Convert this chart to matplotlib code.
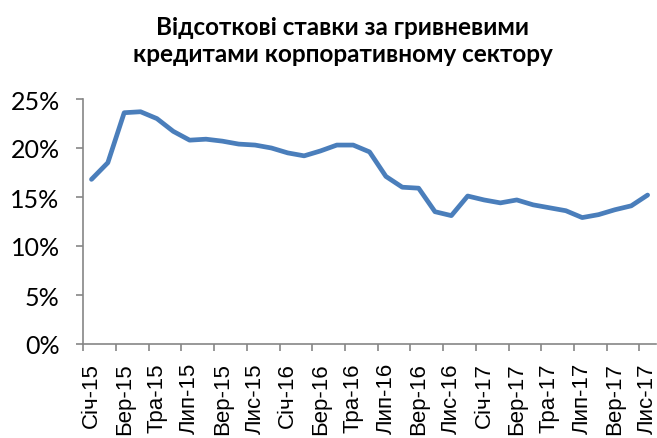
import matplotlib
matplotlib.use("Agg")
import matplotlib.pyplot as plt
from matplotlib.ticker import FixedLocator, PercentFormatter

months = ["Січ", "Лют", "Бер", "Кві", "Тра", "Чер", "Лип", "Сер", "Вер", "Жов", "Лис", "Гру"]
categories = [f"{m}-{y}" for y in ("15", "16", "17") for m in months][:35]

rates = [16.8, 18.5, 23.6, 23.7, 23.0, 21.7, 20.8, 20.9, 20.7, 20.4, 20.3, 20.0,
         19.5, 19.2, 19.7, 20.3, 20.3, 19.6, 17.1, 16.0, 15.9, 13.5, 13.1, 15.1,
         14.7, 14.4, 14.7, 14.2, 13.9, 13.6, 12.9, 13.2, 13.7, 14.1, 15.2]

title = "Відсоткові ставки за гривневими\nкредитами корпоративному сектору"

fig = plt.figure(figsize=(6.57, 4.39), dpi=100)
ax = fig.add_axes([83.3 / 657, 1 - 345 / 439, (655.8 - 83.3) / 657, 245 / 439])

x = list(range(len(rates)))
ax.plot(x, rates, color="#4a7ebb", linewidth=3.4, solid_joinstyle="round", solid_capstyle="round")

ax.set_xlim(-0.5, len(rates) - 0.5)
ax.set_ylim(0, 25)
ax.set_yticks([0, 5, 10, 15, 20, 25])
ax.yaxis.set_major_formatter(PercentFormatter(decimals=0))

ax.set_xticks(x[::2])
ax.set_xticklabels(categories[::2], rotation=90, fontfamily="Liberation Sans", fontsize=16)
ax.xaxis.set_minor_locator(FixedLocator([i - 0.5 for i in x[::2]]))
ax.tick_params(axis="x", which="major", length=0, pad=13)
ax.tick_params(axis="x", which="minor", length=5, color="#868686", width=1.2)
ax.tick_params(axis="y", length=5, color="#868686", width=1.2, pad=12, labelsize=18)
for lbl in ax.get_yticklabels():
    lbl.set_fontfamily("Lato")

for s in ("top", "right"):
    ax.spines[s].set_visible(False)
for s in ("left", "bottom"):
    ax.spines[s].set_color("#868686")
    ax.spines[s].set_linewidth(1.2)

fig.text(0.522, 1 - 41 / 439, title, ha="center", va="center", fontfamily="Lato",
         fontweight="bold", fontsize=17.5, linespacing=1.2)

fig.savefig("out.png", dpi=100)
